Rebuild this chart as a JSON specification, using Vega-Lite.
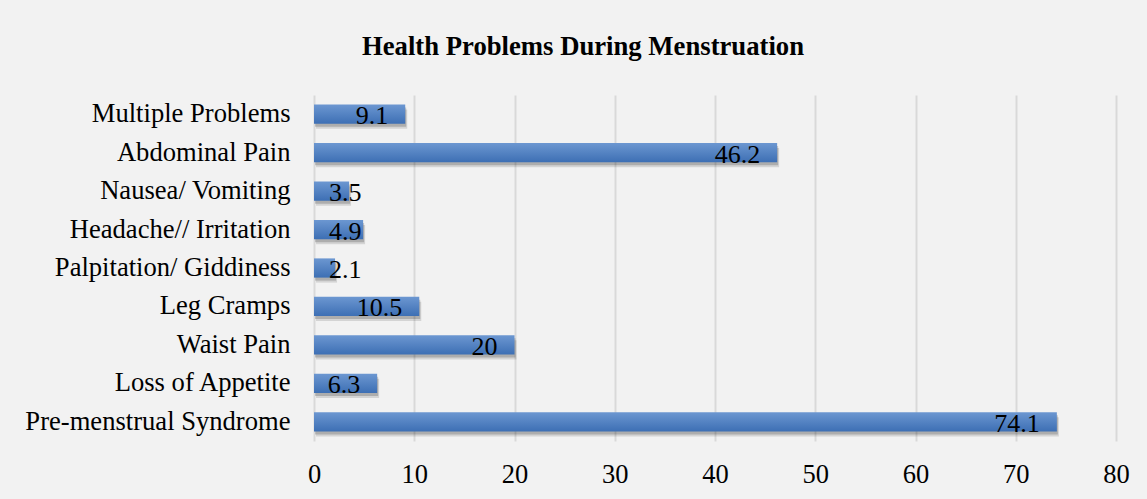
{
  "$schema": "https://vega.github.io/schema/vega-lite/v6.json",
  "width": 802,
  "height": 346,
  "autosize": {"type": "none"},
  "padding": {"left": 314, "top": 95, "right": 31, "bottom": 58},
  "background": "#f2f2f2",
  "title": {
    "text": "Health Problems During Menstruation",
    "font": "Liberation Serif",
    "fontSize": 26.7,
    "fontWeight": "bold",
    "color": "#000000",
    "anchor": "middle",
    "frame": "group",
    "dx": -132,
    "baseline": "alphabetic",
    "offset": 13
  },
  "data": {
    "values": [
      {"problem": "Multiple Problems", "percent": 9.1},
      {"problem": "Abdominal Pain", "percent": 46.2},
      {"problem": "Nausea/ Vomiting", "percent": 3.5},
      {"problem": "Headache// Irritation", "percent": 4.9},
      {"problem": "Palpitation/ Giddiness", "percent": 2.1},
      {"problem": "Leg Cramps", "percent": 10.5},
      {"problem": "Waist Pain", "percent": 20},
      {"problem": "Loss of Appetite", "percent": 6.3},
      {"problem": "Pre-menstrual Syndrome", "percent": 74.1}
    ]
  },
  "encoding": {
    "y": {
      "field": "problem",
      "type": "nominal",
      "sort": null,
      "scale": {"paddingInner": 0.5, "paddingOuter": 0.25},
      "axis": {
        "title": null,
        "ticks": false,
        "domain": false,
        "labelPadding": 24,
        "labelFont": "Liberation Serif",
        "labelFontSize": 26.6,
        "labelColor": "#000000",
        "labelLimit": 400
      }
    },
    "x": {
      "field": "percent",
      "type": "quantitative",
      "scale": {"domain": [0, 80]},
      "axis": {
        "title": null,
        "values": [0, 10, 20, 30, 40, 50, 60, 70, 80],
        "ticks": false,
        "domain": false,
        "grid": true,
        "gridColor": "#d9d9d9",
        "gridWidth": 2,
        "labelPadding": 20,
        "labelFont": "Liberation Serif",
        "labelFontSize": 26.5,
        "labelColor": "#000000",
        "labelFlush": false
      }
    }
  },
  "layer": [
    {
      "mark": {"type": "bar", "color": "#000000", "opacity": 0.12, "xOffset": 2, "x2Offset": 5, "yOffset": 5, "y2Offset": 5}
    },
    {
      "mark": {"type": "bar", "color": "#000000", "opacity": 0.18, "xOffset": 1, "x2Offset": 3, "yOffset": 3, "y2Offset": 3}
    },
    {
      "mark": {
        "type": "bar",
        "color": {
          "gradient": "linear",
          "x1": 0, "y1": 0, "x2": 0, "y2": 1,
          "stops": [
            {"offset": 0, "color": "#6c97d1"},
            {"offset": 1, "color": "#3d6fb4"}
          ]
        }
      }
    },
    {
      "transform": [{"filter": "datum.percent >= 6"}],
      "mark": {"type": "text", "align": "right", "dx": -17, "font": "Liberation Serif", "fontSize": 26, "color": "#000000", "baseline": "middle", "dy": 2},
      "encoding": {"text": {"field": "percent", "type": "quantitative"}}
    },
    {
      "transform": [{"filter": "datum.percent < 6"}],
      "mark": {"type": "text", "align": "left", "dx": 15, "font": "Liberation Serif", "fontSize": 26, "color": "#000000", "baseline": "middle", "dy": 2},
      "encoding": {
        "x": {"datum": 0},
        "text": {"field": "percent", "type": "quantitative"}
      }
    }
  ],
  "config": {"view": {"stroke": null}}
}
